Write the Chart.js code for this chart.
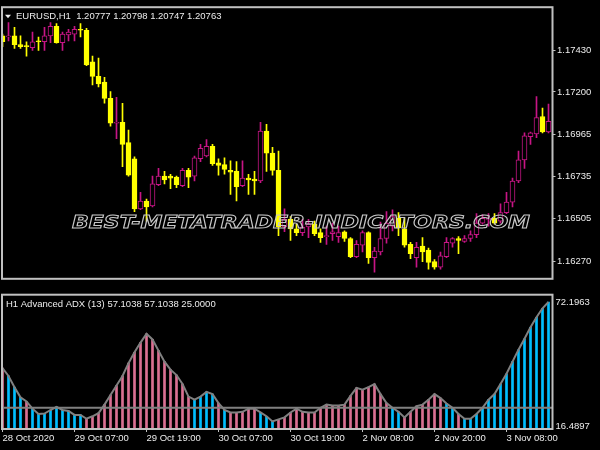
<!DOCTYPE html>
<html>
<head>
<meta charset="utf-8">
<script src="https://cdn.jsdelivr.net/npm/chart.js@4.4.1/dist/chart.umd.min.js"></script>
<style>
html, body { margin: 0; padding: 0; background: #000; }
#wrap { position: relative; width: 600px; height: 450px; overflow: hidden; background: #000; }
#priceBox { position: absolute; left: 0; top: 0; width: 600px; height: 286px; }
#adxBox { position: absolute; left: 0; top: 286px; width: 600px; height: 164px; }
</style>
</head>
<body>
<div id="wrap">
    <div id="priceBox"><canvas id="priceChart"></canvas></div>
    <div id="adxBox"><canvas id="adxChart"></canvas></div>
</div>
<script>
// EURUSD H1 candles, bar 0 = 28 Oct 19:00
const openPx = [
    1.17508, 1.17502, 1.17508, 1.17460, 1.17455, 1.17444, 1.17481, 1.17476, 1.17508, 1.17560,
    1.17471, 1.17513, 1.17518, 1.17544, 1.17539, 1.17365, 1.17286, 1.17254, 1.17165, 1.17028,
    1.17033, 1.16922, 1.16833, 1.16558, 1.16601, 1.16574, 1.16690, 1.16738, 1.16738, 1.16732,
    1.16685, 1.16769, 1.16738, 1.16833, 1.16848, 1.16901, 1.16811, 1.16801, 1.16769, 1.16764,
    1.16685, 1.16727, 1.16722, 1.16711, 1.16985, 1.16864, 1.16769, 1.16458, 1.16500, 1.16448,
    1.16427, 1.16458, 1.16474, 1.16427, 1.16405, 1.16421, 1.16405, 1.16432, 1.16395, 1.16295,
    1.16358, 1.16427, 1.16289, 1.16321, 1.16395, 1.16463, 1.16506, 1.16448, 1.16363, 1.16289,
    1.16353, 1.16332, 1.16268, 1.16237, 1.16295, 1.16369, 1.16395, 1.16379, 1.16395, 1.16416,
    1.16479, 1.16500, 1.16506, 1.16490, 1.16537, 1.16595, 1.16711, 1.16827, 1.16954, 1.16970,
    1.17065, 1.16980
];
const highPx = [
    1.17518, 1.17581, 1.17555, 1.17508, 1.17476, 1.17529, 1.17502, 1.17555, 1.17581, 1.17576,
    1.17529, 1.17544, 1.17560, 1.17576, 1.17550, 1.17397, 1.17386, 1.17281, 1.17202, 1.17170,
    1.17138, 1.16991, 1.16843, 1.16648, 1.16611, 1.16738, 1.16780, 1.16764, 1.16748, 1.16738,
    1.16780, 1.16780, 1.16848, 1.16912, 1.16938, 1.16912, 1.16833, 1.16838, 1.16822, 1.16817,
    1.16822, 1.16748, 1.16764, 1.17033, 1.17022, 1.16896, 1.16875, 1.16558, 1.16516, 1.16474,
    1.16500, 1.16500, 1.16490, 1.16448, 1.16463, 1.16479, 1.16463, 1.16437, 1.16400, 1.16384,
    1.16437, 1.16432, 1.16347, 1.16485, 1.16543, 1.16553, 1.16537, 1.16506, 1.16374, 1.16374,
    1.16400, 1.16342, 1.16279, 1.16321, 1.16400, 1.16400, 1.16405, 1.16411, 1.16437, 1.16532,
    1.16527, 1.16532, 1.16532, 1.16585, 1.16648, 1.16727, 1.16875, 1.16975, 1.16980, 1.17175,
    1.17112, 1.17133
];
const lowPx = [
    1.17449, 1.17481, 1.17439, 1.17439, 1.17397, 1.17428, 1.17428, 1.17428, 1.17471, 1.17468,
    1.17428, 1.17481, 1.17481, 1.17502, 1.17344, 1.17239, 1.17228, 1.17138, 1.17012, 1.16943,
    1.16790, 1.16738, 1.16543, 1.16553, 1.16490, 1.16569, 1.16685, 1.16695, 1.16669, 1.16674,
    1.16680, 1.16674, 1.16711, 1.16817, 1.16843, 1.16796, 1.16743, 1.16748, 1.16637, 1.16601,
    1.16680, 1.16637, 1.16637, 1.16701, 1.16764, 1.16743, 1.16411, 1.16432, 1.16384, 1.16411,
    1.16411, 1.16400, 1.16411, 1.16374, 1.16363, 1.16384, 1.16374, 1.16379, 1.16289, 1.16289,
    1.16321, 1.16258, 1.16210, 1.16305, 1.16369, 1.16437, 1.16411, 1.16347, 1.16284, 1.16237,
    1.16268, 1.16226, 1.16226, 1.16226, 1.16289, 1.16347, 1.16311, 1.16374, 1.16379, 1.16400,
    1.16474, 1.16463, 1.16474, 1.16479, 1.16532, 1.16569, 1.16701, 1.16780, 1.16912, 1.16949,
    1.16975, 1.16975
];
const closePx = [
    1.17476, 1.17508, 1.17460, 1.17449, 1.17449, 1.17476, 1.17476, 1.17508, 1.17560, 1.17471,
    1.17518, 1.17529, 1.17544, 1.17539, 1.17349, 1.17286, 1.17244, 1.17165, 1.17028, 1.17033,
    1.16912, 1.16743, 1.16558, 1.16601, 1.16569, 1.16695, 1.16738, 1.16717, 1.16727, 1.16690,
    1.16769, 1.16732, 1.16838, 1.16891, 1.16901, 1.16806, 1.16796, 1.16775, 1.16759, 1.16680,
    1.16727, 1.16717, 1.16711, 1.16985, 1.16864, 1.16769, 1.16458, 1.16500, 1.16448, 1.16427,
    1.16458, 1.16474, 1.16421, 1.16400, 1.16411, 1.16432, 1.16427, 1.16395, 1.16295, 1.16363,
    1.16427, 1.16289, 1.16326, 1.16395, 1.16479, 1.16516, 1.16453, 1.16358, 1.16311, 1.16347,
    1.16321, 1.16263, 1.16237, 1.16300, 1.16374, 1.16395, 1.16384, 1.16395, 1.16416, 1.16479,
    1.16506, 1.16506, 1.16479, 1.16537, 1.16595, 1.16711, 1.16827, 1.16959, 1.16975, 1.17059,
    1.16980, 1.17038
];

// Advanced ADX (13) histogram, trend 1 = up (blue), -1 = down (pink)
const adxValues = [
    42.7, 39.2, 34.2, 29.7, 27.8, 24.6, 22.2, 22.4, 24.0, 25.4,
    24.0, 23.6, 21.8, 21.8, 20.1, 21.2, 22.6, 26.4, 30.7, 34.9,
    39.2, 44.9, 49.8, 54.1, 58.0, 55.5, 50.5, 45.6, 42.0, 39.6,
    35.6, 30.0, 28.6, 30.0, 32.1, 31.1, 27.1, 24.0, 22.9, 22.9,
    23.2, 24.6, 24.6, 22.9, 21.2, 18.9, 19.8, 20.7, 22.9, 24.6,
    23.2, 22.9, 22.9, 25.0, 26.4, 26.0, 26.0, 26.4, 30.3, 33.9,
    33.1, 34.2, 35.6, 31.1, 27.1, 25.0, 23.2, 20.7, 23.2, 25.7,
    26.4, 28.6, 31.1, 29.3, 26.9, 25.0, 22.2, 20.1, 20.1, 22.2,
    25.0, 28.6, 31.1, 35.6, 40.2, 45.6, 50.9, 55.8, 60.9, 65.4,
    69.4, 72.2
];
const adxTrend = [
    -1, 1, 1, 1, -1, 1, 1, 1, 1, 1,
    1, 1, 1, 1, -1, -1, -1, -1, -1, -1,
    -1, -1, -1, -1, -1, -1, -1, -1, -1, -1,
    -1, -1, 1, 1, 1, 1, -1, 1, -1, -1,
    -1, -1, -1, 1, 1, 1, -1, -1, -1, -1,
    -1, -1, -1, -1, -1, -1, -1, -1, -1, -1,
    -1, -1, -1, -1, -1, 1, 1, -1, -1, -1,
    -1, -1, -1, -1, 1, 1, -1, 1, 1, 1,
    1, 1, 1, 1, 1, 1, 1, 1, 1, 1,
    1, 1
];
const adxLevel = 25;

const priceTicks = [1.17430, 1.17200, 1.16965, 1.16735, 1.16505, 1.16270];
const adxTicks = [72.1963, 16.4897];
const timeTickBars = [0, 12, 24, 36, 48, 60, 72, 84];
const timeTickLabels = ['28 Oct 2020', '29 Oct 07:00', '29 Oct 19:00', '30 Oct 07:00',
    '30 Oct 19:00', '2 Nov 08:00', '2 Nov 20:00', '3 Nov 08:00'];

const priceHeader = 'EURUSD,H1  1.20777 1.20798 1.20747 1.20763';
const adxHeader = 'H1 Advanced ADX (13) 57.1038 57.1038 25.0000';
const watermarkText = 'BEST-METATRADER-INDICATORS.COM';

const YELLOW = '#ffff00';
const MAGENTA = '#c71585';
const BLUE = '#00bfff';
const PINK = '#db7093';
const LINE_GRAY = '#808080';
const FRAME = '#c0c0c0';
const TEXT = '#ececec';
const FONT = '"Liberation Sans", Arial, sans-serif';

Chart.defaults.font.family = FONT;
Chart.defaults.font.size = 9.5;
Chart.defaults.color = TEXT;

// x range so that bars sit 6px apart from x=2.5
const xMin = -1 / 12;
const xMax = 91 + 2 / 3;

const isBull = (i) => closePx[i] > openPx[i];

const paneFrame = {
    id: 'paneFrame',
    afterDraw(chart, args, opts)
    {
        const { ctx, chartArea: a } = chart;
        ctx.save();
        ctx.strokeStyle = FRAME;
        ctx.lineWidth = 2;
        ctx.strokeRect(a.left, a.top, a.right - a.left, a.bottom - a.top);
        ctx.fillStyle = TEXT;
        ctx.font = '9.5px ' + FONT;
        ctx.textBaseline = 'middle';
        ctx.fillText(opts.text, opts.x, a.top + opts.dy);
        if (opts.arrow)
        {
            ctx.beginPath();
            ctx.moveTo(5, a.top + 7.5);
            ctx.lineTo(11, a.top + 7.5);
            ctx.lineTo(8, a.top + 11);
            ctx.closePath();
            ctx.fill();
        }
        ctx.restore();
    }
};

const watermark = {
    id: 'watermark',
    afterDatasetsDraw(chart, args, o)
    {
        const { ctx } = chart;
        ctx.save();
        ctx.font = 'italic bold 18px "DejaVu Sans"';
        const w = ctx.measureText(o.text).width;
        ctx.translate(o.x, o.y);
        ctx.scale(o.width / w, 1);
        ctx.textBaseline = 'middle';
        ctx.strokeStyle = o.color;
        ctx.lineWidth = 1;
        ctx.strokeText(o.text, 0, 0);
        ctx.restore();
    }
};

const levelLine = {
    id: 'levelLine',
    afterDatasetsDraw(chart)
    {
        const { ctx, chartArea: a } = chart;
        const y = chart.scales.y.getPixelForValue(adxLevel);
        ctx.save();
        ctx.strokeStyle = LINE_GRAY;
        ctx.lineWidth = 2;
        ctx.beginPath();
        ctx.moveTo(a.left, y);
        ctx.lineTo(a.right, y);
        ctx.stroke();
        ctx.restore();
    }
};

const priceChart = new Chart(document.getElementById('priceChart'), {
    type: 'bar',
    data: {
        datasets: [
            {
                data: openPx.map((o, i) => ({ x: i, y: [o, closePx[i]] })),
                backgroundColor: (c) => isBull(c.dataIndex) ? '#000000' : YELLOW,
                borderColor: (c) => isBull(c.dataIndex) ? MAGENTA : YELLOW,
                borderWidth: 1,
                borderSkipped: false,
                barThickness: 5,
                minBarLength: 1,
                grouped: false
            },
            {
                data: lowPx.map((l, i) => ({ x: i, y: [l, highPx[i]] })),
                backgroundColor: (c) => isBull(c.dataIndex) ? MAGENTA : YELLOW,
                borderWidth: 0,
                barThickness: 1,
                grouped: false
            }
        ]
    },
    options: {
        responsive: true,
        maintainAspectRatio: false,
        animation: false,
        events: [],
        layout: { padding: { top: 2, left: 2, right: 0, bottom: 1 } },
        plugins: {
            legend: { display: false },
            tooltip: { enabled: false },
            paneFrame: { text: priceHeader, x: 16, dy: 9.5, arrow: true },
            watermark: { text: watermarkText, x: 72, y: 223.5, width: 458, color: '#c8c8c8' }
        },
        scales: {
            x: {
                type: 'linear',
                min: xMin,
                max: xMax,
                offset: false,
                display: false
            },
            y: {
                position: 'right',
                min: 1.1617354,
                max: 1.1766569,
                afterBuildTicks: (s) => { s.ticks = priceTicks.map(v => ({ value: v })); },
                afterFit: (s) => { s.width = 47.5; },
                border: { display: false },
                grid: { drawOnChartArea: false, drawTicks: true, tickLength: 3, color: FRAME },
                ticks: {
                    padding: 1.5,
                    callback: (v) => v.toFixed(5)
                }
            }
        }
    },
    plugins: [paneFrame, watermark]
});

const adxChart = new Chart(document.getElementById('adxChart'), {
    type: 'bar',
    data: {
        datasets: [
            {
                type: 'line',
                data: adxValues.map((v, i) => ({ x: i, y: v })),
                borderColor: LINE_GRAY,
                borderWidth: 2,
                pointRadius: 0,
                tension: 0
            },
            {
                data: adxValues.map((v, i) => ({ x: i, y: v })),
                backgroundColor: (c) => adxTrend[c.dataIndex] > 0 ? BLUE : PINK,
                borderWidth: 0,
                barThickness: 2,
                grouped: false
            }
        ]
    },
    options: {
        responsive: true,
        maintainAspectRatio: false,
        animation: false,
        events: [],
        layout: { padding: { top: 2, left: 2, right: 0, bottom: 0 } },
        plugins: {
            legend: { display: false },
            tooltip: { enabled: false },
            paneFrame: { text: adxHeader, x: 6, dy: 10 }
        },
        scales: {
            x: {
                type: 'linear',
                min: xMin,
                max: xMax,
                offset: false,
                afterBuildTicks: (s) => { s.ticks = timeTickBars.map(v => ({ value: v })); },
                afterFit: (s) => { s.height = 21; },
                border: { display: false },
                grid: { drawOnChartArea: false, drawTicks: true, tickLength: 3, color: FRAME, offset: false },
                ticks: {
                    autoSkip: false,
                    maxRotation: 0,
                    align: 'start',
                    padding: 1,
                    callback: (v) => timeTickLabels[timeTickBars.indexOf(v)]
                }
            },
            y: {
                position: 'right',
                min: 15.52,
                max: 75.47,
                afterBuildTicks: (s) => { s.ticks = adxTicks.map(v => ({ value: v })); },
                afterFit: (s) => { s.width = 47.5; },
                border: { display: false },
                grid: { drawOnChartArea: false, drawTicks: false },
                ticks: {
                    padding: 3,
                    callback: (v) => v.toFixed(4)
                }
            }
        }
    },
    plugins: [paneFrame, levelLine]
});
</script>
</body>
</html>
